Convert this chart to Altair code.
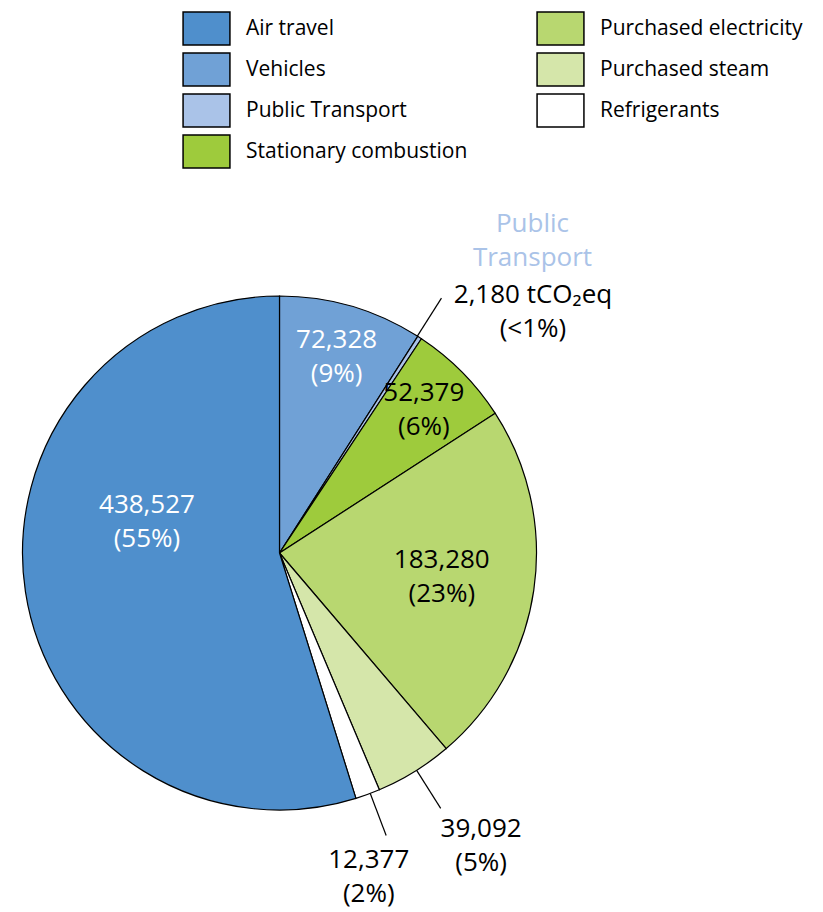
import math
import altair as alt
import pandas as pd

# ---- data ----
categories = ["Vehicles", "Public Transport", "Stationary combustion",
              "Purchased electricity", "Purchased steam", "Refrigerants", "Air travel"]
values = [72328, 2180, 52379, 183280, 39092, 12377, 438527]
pct_labels = ["9%", "<1%", "6%", "23%", "5%", "2%", "55%"]
value_suffix = ["", " tCO\u2082eq", "", "", "", "", ""]

# ---- styles ----
palette = {
    "Air travel": "#4f8fcc",
    "Vehicles": "#70a1d6",
    "Public Transport": "#aac3e8",
    "Stationary combustion": "#9ecb3c",
    "Purchased electricity": "#b8d770",
    "Purchased steam": "#d5e6aa",
    "Refrigerants": "#ffffff",
}
legend_order = ["Air travel", "Vehicles", "Public Transport", "Stationary combustion",
                "Purchased electricity", "Purchased steam", "Refrigerants"]
text_color = {"Air travel": "white", "Vehicles": "white"}
FONT = "Open Sans"

# layout: pie centre / radius (plot coordinates) and label placement
CX, CY, R = 271.5, 545.0, 257.0
# (angle in degrees or None for slice middle, radius in px)
label_place = {
    "Vehicles": (None, 204),
    "Public Transport": (46.4, 350),
    "Stationary combustion": (None, 203),
    "Purchased electricity": (None, 164),
    "Purchased steam": (145.5, 356),
    "Refrigerants": (164.6, 336),
    "Air travel": (283.0, 136),
}
leader_cats = ["Public Transport", "Purchased steam", "Refrigerants"]
LEADER_R = (R, 302.0)
LINE_H = 34

total = sum(values)
mids = {}
cum = 0
for c, v in zip(categories, values):
    mids[c] = (cum + v / 2) / total * 360.0
    cum += v


def polar(angle_deg, r):
    a = math.radians(angle_deg)
    return CX + r * math.sin(a), CY - r * math.cos(a)


pie_df = pd.DataFrame({"category": categories, "value": values,
                       "order": list(range(len(categories)))})

# labels
rows = []
for c, v, p, suf in zip(categories, values, pct_labels, value_suffix):
    ang, r = label_place[c]
    if ang is None:
        ang = mids[c]
    x, y = polar(ang, r)
    rows.append({"x": x, "y": y, "label": f"{v:,}{suf}\n({p})",
                 "tc": text_color.get(c, "black")})
# category name label for the tiny slice
x, y = polar(39.0, 402)
rows.append({"x": x, "y": y, "label": "Public\nTransport", "tc": palette["Public Transport"]})
lab_df = pd.DataFrame(rows)

lines = []
for c in leader_cats:
    x1, y1 = polar(mids[c] - 0.6, LEADER_R[0])
    x2, y2 = polar(mids[c] - 0.6, LEADER_R[1])
    lines.append({"x": x1, "y": y1, "x2": x2, "y2": y2})
line_df = pd.DataFrame(lines)

pie = alt.Chart(pie_df).mark_arc(outerRadius=R, stroke="black", strokeWidth=1.2).encode(
    theta=alt.Theta("value:Q", stack=True),
    order=alt.Order("order:Q"),
    x=alt.value(CX),
    y=alt.value(CY),
    color=alt.Color(
        "category:N",
        scale=alt.Scale(domain=legend_order, range=[palette[c] for c in legend_order]),
        legend=alt.Legend(
            orient="none", legendX=181, legendY=3, direction="vertical", columns=2,
            columnPadding=66, rowPadding=2, padding=0,
            symbolType="M-1.42,-1H1.42V1H-1.42Z", symbolSize=1089,
            symbolStrokeColor="black", symbolStrokeWidth=1.5, symbolOpacity=1,
            labelFont=FONT, labelFontSize=21, labelColor="black", labelOffset=22,
            labelLimit=400, title=None,
        ),
    ),
)

leaders = alt.Chart(line_df).mark_rule(color="black", strokeWidth=1.2).encode(
    x=alt.X("x:Q", scale=None), y=alt.Y("y:Q", scale=None),
    x2="x2:Q", y2="y2:Q",
)

labels = alt.Chart(lab_df).mark_text(
    font=FONT, fontSize=26, lineBreak="\n", lineHeight=LINE_H,
    align="center", baseline="middle", dy=-LINE_H / 2,
).encode(
    x=alt.X("x:Q", scale=None), y=alt.Y("y:Q", scale=None),
    text="label:N", color=alt.Color("tc:N", scale=None),
)

chart = alt.layer(pie, leaders, labels).properties(
    width=807, height=904, padding=0, autosize=alt.AutoSizeParams(type="none"),
).configure_view(stroke=None)

chart.save("out.html", embed_options={"renderer": "svg", "actions": False})
